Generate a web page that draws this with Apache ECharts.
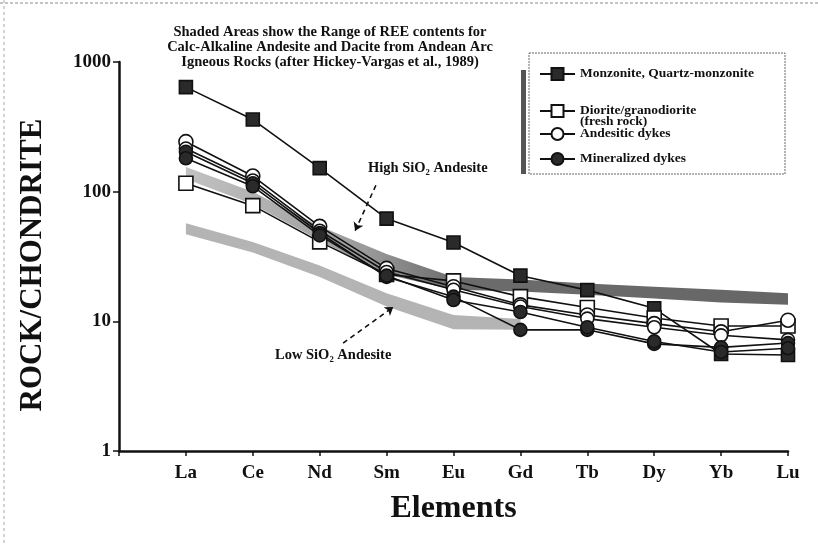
<!DOCTYPE html>
<html>
<head>
<meta charset="utf-8">
<script src="https://cdn.jsdelivr.net/npm/echarts@6/dist/echarts.min.js"></script>
<style>html,body{margin:0;padding:0;background:#fff}#c{width:818px;height:544px}</style>
</head>
<body>
<div id="c"></div>
<script>
// ---- data ----
const elements = ['La', 'Ce', 'Nd', 'Sm', 'Eu', 'Gd', 'Tb', 'Dy', 'Yb', 'Lu'];
const yTicks = [1, 10, 100, 1000];
const monzonite = [640, 360, 152, 62, 40.5, 22.5, 17.4, 12.6, 5.6, 5.5];
const diorite = [116, 78, 41, 23, 20.5, 15.5, 12.8, 10.6, 9.2, 9.2];
const andesiticA = [243, 132, 54, 25.6, 18.5, 13.4, 11.2, 9.6, 8.3, 10.2];
const andesiticB = [215, 122, 50, 24, 17.5, 13, 10.5, 9, 7.8, 7.2];
const mineralizedA = [203, 116, 48, 22, 15.5, 8.6, 8.6, 6.7, 6.3, 6.8];
const mineralizedB = [181, 110, 46, 22.5, 14.6, 11.8, 9, 7, 5.8, 6.2];
const highSiLower = [125, 80, 42, 23, 17.5, 17, 16, 15, 14, 13.4];
const highSiUpper = [155, 100, 54, 33, 22, 21, 19.6, 18.5, 17.5, 16.5];
const lowSiLower = [47, 34, 22, 13, 8.7, 8.6];
const lowSiUpper = [57, 41, 27, 16.5, 11.2, 10.4];
const highArrow = [[3.84, 112], [3.53, 50]];
const lowArrow = [[3.35, 6.8], [4.1, 12.9]];

const names = {
  mon: 'Monzonite, Quartz-monzonite',
  dio: 'Diorite/granodiorite (fresh rock)',
  and: 'Andesitic dykes',
  min: 'Mineralized dykes'
};

const FONT = "'Liberation Serif','DejaVu Serif',serif";
const SMALL = "bold 14.5px 'Liberation Serif', 'DejaVu Serif', serif";
const LEG = "bold 13.5px 'Liberation Serif', 'DejaVu Serif', serif";
const toXY = arr => arr.map((v, i) => [i + 1, v]);

function bandSeries(lower, upper, fill, z) {
  return {
    type: 'custom',
    silent: true,
    z: z,
    data: [0],
    renderItem: function (params, api) {
      const pts = [];
      for (let i = 0; i < upper.length; i++) pts.push(api.coord([i + 1, upper[i]]));
      for (let i = lower.length - 1; i >= 0; i--) pts.push(api.coord([i + 1, lower[i]]));
      return { type: 'polygon', shape: { points: pts }, style: { fill: fill, stroke: null } };
    }
  };
}

function lineSeries(name, data, symbol, filled, size) {
  return {
    name: name,
    type: 'line',
    data: toXY(data),
    symbol: symbol,
    symbolSize: size,
    z: 5,
    lineStyle: { color: '#111', width: 1.6 },
    itemStyle: { color: filled ? '#2a2a2a' : '#fff', borderColor: '#111', borderWidth: 1.6 },
    emphasis: { disabled: true },
    animation: false
  };
}

const legendBase = {
  orient: 'vertical', left: 534, itemWidth: 35, itemHeight: 15, itemGap: 0,
  textStyle: { fontFamily: FONT, fontWeight: 'bold', fontSize: 13.5, color: '#111', lineHeight: 14 },
  selectedMode: false,
  formatter: n => n === names.dio ? 'Diorite/granodiorite' : n
};

const chart = echarts.init(document.getElementById('c'), null, { renderer: 'canvas' });
chart.setOption({
  animation: false,
  backgroundColor: '#fff',
  grid: { left: 119, right: 30, top: 62, bottom: 93 },
  xAxis: {
    type: 'value', min: 0, max: 10, interval: 1,
    axisLine: { lineStyle: { color: '#111', width: 2.5 } },
    axisTick: { show: true, length: 5, lineStyle: { color: '#111', width: 1.5 } },
    splitLine: { show: false },
    axisLabel: {
      margin: 13, fontFamily: FONT, fontWeight: 'bold', fontSize: 19, color: '#111',
      formatter: v => elements[v - 1] || ''
    },
    name: 'Elements', nameLocation: 'middle', nameGap: 42,
    nameTextStyle: { fontFamily: FONT, fontWeight: 'bold', fontSize: 32, color: '#111' }
  },
  yAxis: {
    type: 'log', min: yTicks[0], max: yTicks[yTicks.length - 1], logBase: 10,
    axisLine: { show: true, lineStyle: { color: '#111', width: 2.5 } },
    axisTick: { show: true, length: 6, lineStyle: { color: '#111', width: 1.5 } },
    minorTick: { show: false },
    splitLine: { show: false },
    axisLabel: { margin: 8, fontFamily: FONT, fontWeight: 'bold', fontSize: 19, color: '#111',
      formatter: v => String(Math.round(v)) }
  },
  legend: [
    Object.assign({}, legendBase, { top: 62, data: [names.mon] }),
    Object.assign({}, legendBase, { top: 99, data: [names.dio] }),
    Object.assign({}, legendBase, { top: 122, data: [names.and] }),
    Object.assign({}, legendBase, { top: 147, data: [names.min] })
  ],
  graphic: [
    { type: 'line', shape: { x1: 0, y1: 3, x2: 818, y2: 3 }, style: { stroke: '#888', lineWidth: 1, lineDash: [3, 2] }, silent: true },
    { type: 'line', shape: { x1: 4, y1: 0, x2: 4, y2: 544 }, style: { stroke: '#aaa', lineWidth: 1, lineDash: [3, 3] }, silent: true },
    { type: 'rect', shape: { x: 521, y: 70, width: 5, height: 104 }, style: { fill: '#555' }, silent: true },
    { type: 'rect', shape: { x: 529, y: 53, width: 256, height: 121 }, style: { fill: 'none', stroke: '#666', lineWidth: 1, lineDash: [2, 1] }, silent: true },
    { type: 'text', x: 580, y: 122, style: { text: '(fresh rock)', font: LEG, fill: '#111', verticalAlign: 'middle' }, silent: true },
    { type: 'text', x: 330, y: 25, style: {
        text: 'Shaded Areas show the Range of REE contents for\nCalc-Alkaline Andesite and Dacite from Andean Arc\nIgneous Rocks (after Hickey-Vargas et al., 1989)',
        font: SMALL, fill: '#111', align: 'center', verticalAlign: 'top', lineHeight: 15 }, silent: true },
    { type: 'text', x: 368, y: 161, style: { text: 'High SiO\u2082 Andesite', font: SMALL, fill: '#111', verticalAlign: 'top' }, silent: true },
    { type: 'text', x: 275, y: 348, style: { text: 'Low SiO\u2082 Andesite', font: SMALL, fill: '#111', verticalAlign: 'top' }, silent: true },
    { type: 'text', x: 33, y: 265, rotation: Math.PI / 2, style: { text: 'ROCK/CHONDRITE', font: "bold 31px 'Liberation Serif', 'DejaVu Serif', serif", fill: '#111', align: 'center', verticalAlign: 'middle' }, silent: true }
  ],
  series: [
    bandSeries(lowSiLower, lowSiUpper, '#b4b4b4', 1),
    bandSeries(highSiLower, highSiUpper, {
      type: 'linear', x: 0, y: 0, x2: 1, y2: 0, global: false,
      colorStops: [{ offset: 0, color: '#c2c2c2' }, { offset: 0.3, color: '#9a9a9a' }, { offset: 0.45, color: '#6c6c6c' }, { offset: 1, color: '#666' }]
    }, 2),
    {
      type: 'line', data: [], silent: true, z: 4,
      markLine: {
        silent: true, symbol: ['none', 'arrow'], symbolSize: 8, label: { show: false },
        lineStyle: { color: '#111', type: [5, 4], width: 1.6 },
        data: [
          [{ coord: highArrow[0] }, { coord: highArrow[1] }],
          [{ coord: lowArrow[0] }, { coord: lowArrow[1] }]
        ]
      }
    },
    lineSeries(names.mon, monzonite, 'rect', true, 13),
    lineSeries(names.dio, diorite, 'rect', false, 14),
    lineSeries(names.and, andesiticA, 'circle', false, 14),
    lineSeries(names.and, andesiticB, 'circle', false, 13),
    lineSeries(names.min, mineralizedA, 'circle', true, 13),
    lineSeries(names.min, mineralizedB, 'circle', true, 13)
  ]
});
</script>
</body>
</html>
